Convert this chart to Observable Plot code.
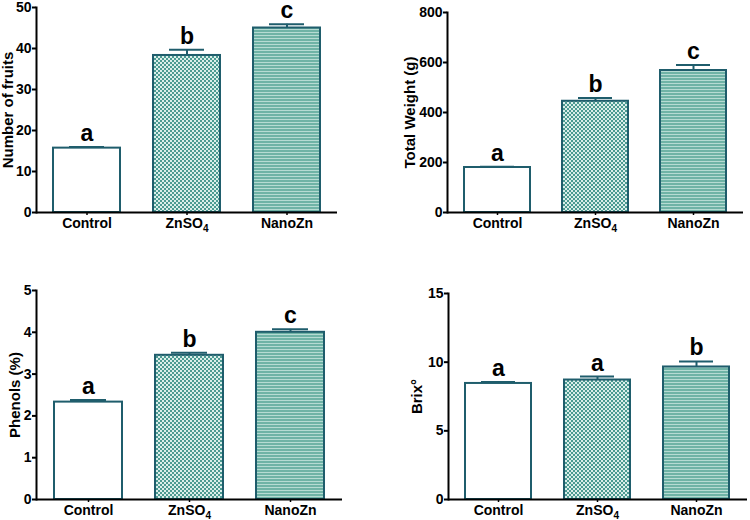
<!DOCTYPE html>
<html><head><meta charset="utf-8">
<script src="https://cdn.jsdelivr.net/npm/d3@7"></script>
<script src="https://cdn.jsdelivr.net/npm/@observablehq/plot@0.6"></script>
<style>
body{margin:0;background:#fff;}
#wrap{position:relative;width:750px;height:520px;background:#fff;}
.panel{position:absolute;}
</style></head><body><div id="wrap"></div>
<script>
// ---- data ----
const categories = ["Control", "ZnSO4", "NanoZn"];

const fruitsMean = [15.7, 38.3, 45.0];
const fruitsErr = [0.3, 1.4, 0.9];
const fruitsLetters = ["a", "b", "c"];
const fruitsTicks = [0, 10, 20, 30, 40, 50];

const weightMean = [180, 445, 568];
const weightErr = [3, 13, 22];
const weightLetters = ["a", "b", "c"];
const weightTicks = [0, 200, 400, 600, 800];

const phenolsMean = [2.33, 3.45, 4.0];
const phenolsErr = [0.05, 0.06, 0.07];
const phenolsLetters = ["a", "b", "c"];
const phenolsTicks = [0, 1, 2, 3, 4, 5];

const brixMean = [8.45, 8.7, 9.65];
const brixErr = [0.1, 0.25, 0.4];
const brixLetters = ["a", "a", "b"];
const brixTicks = [0, 5, 10, 15];

// ---- styles / layout ----
const barStroke = "#1f5d6c";
const panels = [
  {label: "Number of fruits", mean: fruitsMean, err: fruitsErr, letters: fruitsLetters, ticks: fruitsTicks,
   left: 0, top: 0, m: [7, 38, 48, 36], labelOffset: 34},
  {label: "Total Weight (g)", mean: weightMean, err: weightErr, letters: weightLetters, ticks: weightTicks,
   left: 375, top: 0, m: [12, 7, 48, 72], labelOffset: 43},
  {label: "Phenols (%)", mean: phenolsMean, err: phenolsErr, letters: phenolsLetters, ticks: phenolsTicks,
   left: 0, top: 260, m: [30, 33, 21, 36], labelOffset: 27},
  {label: "Brix°", mean: brixMean, err: brixErr, letters: brixLetters, ticks: brixTicks,
   left: 375, top: 260, m: [33, 3, 21, 73], labelOffset: 37}
];

const wrap = document.getElementById("wrap");
const NS = "http://www.w3.org/2000/svg";

panels.forEach((p, k) => {
  const fills = ["white", `url(#chk-${k})`, `url(#str-${k})`];
  const rows = categories.map((c, i) => ({cat: c, mean: p.mean[i], top: p.mean[i] + p.err[i], letter: p.letters[i], fill: fills[i]}));
  const svg = Plot.plot({
    width: 375, height: 260,
    marginTop: p.m[0], marginRight: p.m[1], marginBottom: p.m[2], marginLeft: p.m[3],
    style: {fontFamily: "'Liberation Sans', Arial, sans-serif", fontSize: "14px", fontWeight: "bold", color: "#000", background: "transparent", overflow: "visible"},
    x: {domain: categories, paddingInner: 0.33, paddingOuter: 0.17, label: null},
    y: {domain: [0, p.ticks[p.ticks.length - 1]], label: null},
    color: {type: "identity"},
    marks: [
      Plot.barY(rows, {x: "cat", y: "mean", fill: "fill", stroke: barStroke, strokeWidth: 2}),
      Plot.ruleX(rows, {x: "cat", y1: "mean", y2: "top", stroke: barStroke, strokeWidth: 2}),
      Plot.tickY(rows, {x: "cat", y: "top", stroke: barStroke, strokeWidth: 2, insetLeft: 16, insetRight: 16}),
      Plot.text(rows, {x: "cat", y: "top", text: "letter", dy: -6, lineAnchor: "bottom", fontSize: 23, fontWeight: "bold", fill: "#000"}),
      Plot.ruleY([0], {stroke: "#000", strokeWidth: 2}),
      Plot.frame({anchor: "left", stroke: "#000", strokeWidth: 2}),
      Plot.axisY({ticks: p.ticks, tickFormat: d => String(d), tickSize: 4, tickPadding: 1, strokeWidth: 2, label: p.label, labelAnchor: "center", labelOffset: p.labelOffset, labelArrow: "none"}),
      Plot.axisX({tickSize: 3, tickPadding: 3, strokeWidth: 1.5, label: null})
    ]
  });
  // patterns
  const defs = document.createElementNS(NS, "defs");
  defs.innerHTML = `
    <pattern id="chk-${k}" width="4" height="4" patternUnits="userSpaceOnUse">
      <rect width="4" height="4" fill="#dbeeea"/>
      <rect width="2" height="2" fill="#4c9a91"/>
      <rect x="2" y="2" width="2" height="2" fill="#4c9a91"/>
    </pattern>
    <pattern id="str-${k}" width="4" height="3" patternUnits="userSpaceOnUse">
      <rect width="4" height="3" fill="#6fb3a6"/>
      <rect y="2" width="4" height="1" fill="#b6dbd3"/>
    </pattern>`;
  svg.insertBefore(defs, svg.firstChild);
  // y label size
  const yl = svg.querySelector('[aria-label="y-axis label"] text') || svg.querySelector('[aria-label="y-axis label"]');
  if (yl) yl.style.fontSize = "15px";
  // subscript in ZnSO4
  svg.querySelectorAll('[aria-label="x-axis tick label"] text').forEach(t => {
    if (t.textContent === "ZnSO4") {
      t.textContent = "ZnSO";
      const ts = document.createElementNS(NS, "tspan");
      ts.setAttribute("font-size", "10");
      ts.setAttribute("dy", "4");
      ts.textContent = "4";
      t.appendChild(ts);
    }
  });
  const div = document.createElement("div");
  div.className = "panel";
  div.style.left = p.left + "px";
  div.style.top = p.top + "px";
  div.appendChild(svg);
  wrap.appendChild(div);
});
</script></body></html>
